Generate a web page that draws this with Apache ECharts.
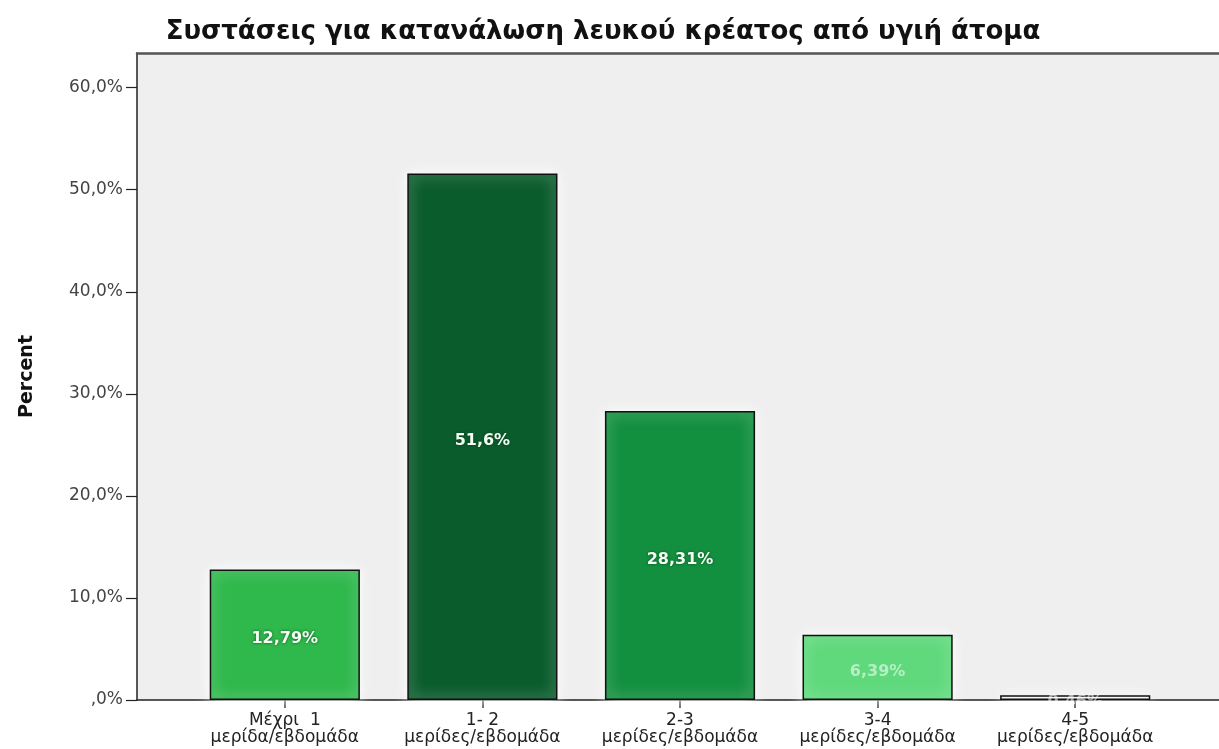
<!DOCTYPE html>
<html>
<head>
<meta charset="utf-8">
<title>Συστάσεις για κατανάλωση λευκού κρέατος</title>
<script src="https://cdn.jsdelivr.net/npm/echarts@6/dist/echarts.min.js"></script>
<style>
  html, body { margin: 0; padding: 0; background: #ffffff; }
  #chart { width: 1219px; height: 749px; }
</style>
</head>
<body>
<div id="chart"></div>
<script>
// Categories (two-line labels) and percentages
const categories = [
  'Μέχρι  1\nμερίδα/εβδομάδα',
  '1- 2\nμερίδες/εβδομάδα',
  '2-3\nμερίδες/εβδομάδα',
  '3-4\nμερίδες/εβδομάδα',
  '4-5\nμερίδες/εβδομάδα'
];
const percents = [12.79, 51.6, 28.31, 6.39, 0.46];
const valueLabels = ['12,79%', '51,6%', '28,31%', '6,39%', '0,46%'];
const barColors = ['#2fb84c', '#0b5c2d', '#13903f', '#5fd97c', '#f4f4f4'];
const yTicks = [0, 10, 20, 30, 40, 50, 60];

const Y_MAX = 63.4;
const FONT = '"DejaVu Sans", Verdana, sans-serif';

function fmtTick(v) {
  if (yTicks.indexOf(Math.round(v * 1000) / 1000) < 0) return '';
  if (v === 0) return ',0%';
  return v.toFixed(1).replace('.', ',') + '%';
}

// labels on the two short bars are faint, as on light fills
const faintLabel = { color: 'rgba(255,255,255,0.55)', textShadowBlur: 0, textShadowColor: 'transparent' };

const chart = echarts.init(document.getElementById('chart'), null, { renderer: 'canvas' });

chart.setOption({
  backgroundColor: '#ffffff',
  animation: false,
  title: {
    text: 'Συστάσεις για κατανάλωση λευκού κρέατος από υγιή άτομα',
    left: 598,
    textAlign: 'center',
    top: 14,
    textStyle: { fontFamily: FONT, fontSize: 26, fontWeight: 'bold', color: '#111' }
  },
  grid: [
    // grid 0: bars
    { left: 186, right: 45, top: 53, bottom: 49 },
    // grid 1: full plot frame with background
    { left: 137, right: 0, top: 53, bottom: 49, show: true,
      backgroundColor: '#efefef', borderWidth: 0 }
  ],
  xAxis: [
    {
      type: 'category', gridIndex: 0, data: categories,
      axisLine: { show: false },
      axisTick: { show: true, alignWithLabel: true, length: 8,
                  lineStyle: { color: '#222', width: 1.5 } },
      axisLabel: { fontFamily: FONT, fontSize: 17, color: '#222',
                   lineHeight: 17, margin: 12, interval: 0 }
    },
    {
      type: 'value', gridIndex: 1, position: 'bottom', min: 0, max: 1,
      axisLine: { show: true, onZero: false, lineStyle: { color: '#222', width: 1.5 } },
      axisTick: { show: false }, axisLabel: { show: false }, splitLine: { show: false }
    },
    {
      type: 'value', gridIndex: 1, position: 'top', min: 0, max: 1,
      axisLine: { show: true, onZero: false, lineStyle: { color: '#555', width: 2.5 } },
      axisTick: { show: false }, axisLabel: { show: false }, splitLine: { show: false }
    }
  ],
  yAxis: [
    {
      type: 'value', gridIndex: 0, min: 0, max: Y_MAX, interval: 10,
      axisLine: { show: false }, axisTick: { show: false },
      axisLabel: { show: false }, splitLine: { show: false }
    },
    {
      type: 'value', gridIndex: 1, min: 0, max: Y_MAX, interval: 10,
      name: 'Percent', nameLocation: 'middle', nameGap: 100, nameRotate: 90,
      nameTextStyle: { fontFamily: FONT, fontSize: 19, fontWeight: 'bold', color: '#111' },
      axisLine: { show: true, lineStyle: { color: '#222', width: 1.5 } },
      axisTick: { show: true, length: 11, lineStyle: { color: '#222', width: 1.2 } },
      axisLabel: { fontFamily: FONT, fontSize: 17, color: '#444', margin: 14,
                   showMaxLabel: false, formatter: fmtTick },
      splitLine: { show: false }
    }
  ],
  series: [{
    type: 'bar',
    xAxisIndex: 0, yAxisIndex: 0,
    barCategoryGap: '24%',
    data: percents.map((v, i) => ({
      value: v,
      itemStyle: { color: barColors[i] },
      label: i >= 3 ? faintLabel : undefined
    })),
    itemStyle: {
      borderColor: '#111', borderWidth: 1.5,
      shadowColor: 'rgba(255,255,255,1)', shadowBlur: 14
    },
    label: {
      show: true,
      position: 'inside',
      offset: [0, 4],
      formatter: p => valueLabels[p.dataIndex],
      fontFamily: FONT, fontSize: 16, fontWeight: 'bold',
      color: '#f4fff4',
      textShadowColor: 'rgba(0,50,15,0.7)', textShadowBlur: 3
    },
    z: 3
  }]
});
</script>
</body>
</html>
